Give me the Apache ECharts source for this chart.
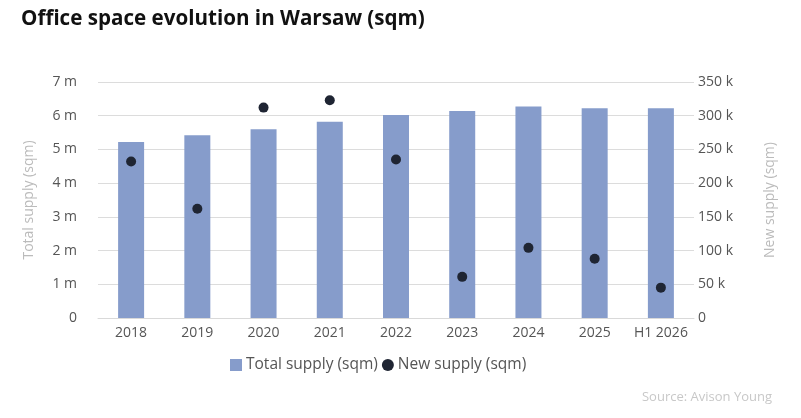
<!DOCTYPE html>
<html>
<head>
<meta charset="utf-8">
<script src="https://cdn.jsdelivr.net/npm/echarts@6/dist/echarts.min.js"></script>
<style>
  html, body { margin: 0; padding: 0; background: #fff; }
  #chart { width: 801px; height: 418px; }
</style>
</head>
<body>
<div id="chart"></div>
<script>
  var years = ['2018', '2019', '2020', '2021', '2022', '2023', '2024', '2025', 'H1 2026'];
  // total stock, sqm
  var totalSupply = [5220000, 5420000, 5600000, 5820000, 6020000, 6140000, 6270000, 6220000, 6220000];
  // new supply, sqm
  var newSupply = [232000, 162000, 312000, 323000, 235000, 61000, 104000, 88000, 45000];

  var myChart = echarts.init(document.getElementById('chart'));
  var font = '"Open Sans", "Noto Sans", sans-serif';

  var option = {
    backgroundColor: '#fff',
    textStyle: { fontFamily: font },
    title: [
      {
        text: 'Office space evolution in Warsaw (sqm)',
        left: 16, top: 4,
        textStyle: { fontSize: 20.6, fontWeight: 'bold', color: '#111', fontFamily: font }
      },
      {
        text: 'Source: Avison Young',
        right: 24, top: 386,
        textStyle: { fontSize: 13, fontWeight: 'normal', color: '#c8c8c8', fontFamily: font }
      }
    ],
    legend: {
      left: 225, top: 352,
      itemWidth: 12, itemHeight: 12, itemGap: 4,
      textStyle: { fontSize: 15.5, color: '#555', fontFamily: font, padding: [0, 0, 0, -1] },
      data: [
        { name: 'Total supply (sqm)', icon: 'rect' },
        { name: 'New supply (sqm)', icon: 'circle' }
      ]
    },
    grid: { left: 98, right: 107, top: 82, bottom: 100 },
    xAxis: {
      type: 'category',
      data: years,
      axisLine: { lineStyle: { color: '#d9d9d9' } },
      axisTick: { show: false },
      axisLabel: { fontSize: 14, color: '#555', margin: 8, interval: 0 }
    },
    yAxis: [
      {
        type: 'value',
        min: 0, max: 7000000, interval: 1000000,
        name: 'Total supply (sqm)',
        nameLocation: 'middle', nameGap: 62,
        nameTextStyle: { fontSize: 14, color: '#bbb' },
        axisLabel: {
          fontSize: 14, color: '#555', margin: 21,
          formatter: function (v) { return v === 0 ? '0' : (v / 1000000) + ' m'; }
        },
        splitLine: { lineStyle: { color: '#dcdcdc' } }
      },
      {
        type: 'value',
        min: 0, max: 350000, interval: 50000,
        name: 'New supply (sqm)',
        nameLocation: 'middle', nameGap: 69,
        nameRotate: 90,
        nameTextStyle: { fontSize: 14, color: '#bbb' },
        axisLabel: {
          fontSize: 14, color: '#555', margin: 4,
          formatter: function (v) { return v === 0 ? '0' : (v / 1000) + ' k'; }
        },
        splitLine: { show: false }
      }
    ],
    series: [
      {
        name: 'Total supply (sqm)',
        type: 'bar',
        yAxisIndex: 0,
        barWidth: 26,
        itemStyle: { color: '#869ccb' },
        data: totalSupply
      },
      {
        name: 'New supply (sqm)',
        type: 'scatter',
        yAxisIndex: 1,
        symbolSize: 10,
        itemStyle: { color: '#1f2533', opacity: 1 },
        data: newSupply
      }
    ]
  };

  myChart.setOption(option);
</script>
</body>
</html>
